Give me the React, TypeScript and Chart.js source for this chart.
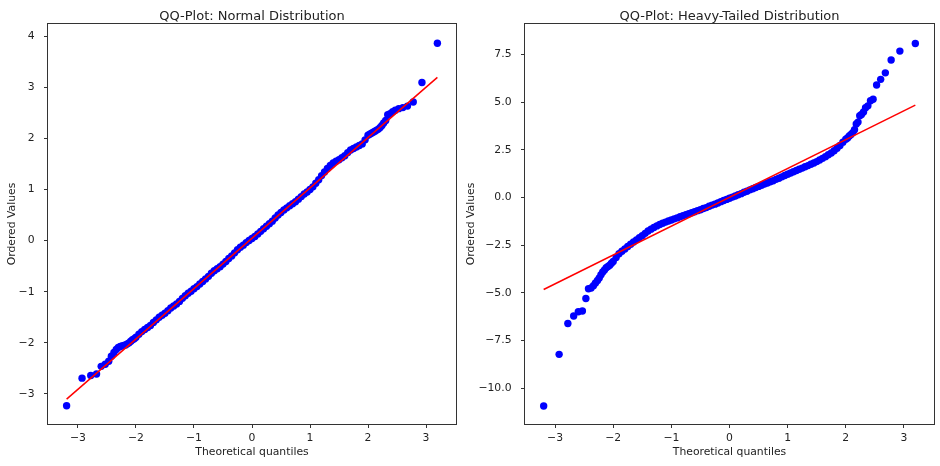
import React, { useEffect, useRef } from "react";
import { Chart, registerables } from "chart.js";

Chart.register(...registerables);

// ---- Data ----
const theoreticalQuantiles = [
  -3.196, -2.93, -2.78, -2.68, -2.6, -2.53, -2.47, -2.425, -2.38, -2.34, -2.305, -2.27, -2.24, -2.21, -2.18, -2.15, -2.12, -2.09, -2.06, -2.03,
  -2.0, -1.95, -1.9, -1.85, -1.8, -1.75, -1.7, -1.65, -1.6, -1.55, -1.5, -1.45, -1.4, -1.35, -1.3, -1.25, -1.2, -1.15, -1.1, -1.05,
  -1.0, -0.95, -0.9, -0.85, -0.8, -0.75, -0.7, -0.65, -0.6, -0.55, -0.5, -0.45, -0.4, -0.35, -0.3, -0.25, -0.2, -0.15, -0.1, -0.05,
  0.0, 0.05, 0.1, 0.15, 0.2, 0.25, 0.3, 0.35, 0.4, 0.45, 0.5, 0.55, 0.6, 0.65, 0.7, 0.75, 0.8, 0.85, 0.9, 0.95,
  1.0, 1.05, 1.1, 1.15, 1.2, 1.25, 1.3, 1.35, 1.4, 1.45, 1.5, 1.55, 1.6, 1.65, 1.7, 1.75, 1.8, 1.85, 1.9, 1.95, 2.0,
  2.03, 2.06, 2.09, 2.12, 2.15, 2.18, 2.21, 2.24, 2.27, 2.305, 2.34, 2.38, 2.425, 2.47, 2.53, 2.6, 2.68, 2.78, 2.93, 3.196,
];

const normalOrdered = [
  -3.23, -2.69, -2.64, -2.61, -2.46, -2.42, -2.36, -2.26, -2.19, -2.13, -2.09, -2.07, -2.06, -2.05, -2.04, -2.02, -2.0, -1.97, -1.94, -1.92,
  -1.89, -1.83, -1.78, -1.74, -1.7, -1.66, -1.6, -1.55, -1.5, -1.46, -1.42, -1.37, -1.32, -1.28, -1.24, -1.19, -1.13, -1.08, -1.03, -0.99,
  -0.94, -0.9, -0.85, -0.8, -0.75, -0.7, -0.64, -0.59, -0.55, -0.51, -0.46, -0.41, -0.35, -0.3, -0.24, -0.18, -0.13, -0.09, -0.04, 0.0,
  0.04, 0.08, 0.13, 0.18, 0.23, 0.28, 0.33, 0.38, 0.44, 0.5, 0.55, 0.6, 0.64, 0.68, 0.72, 0.76, 0.81, 0.86, 0.91, 0.95,
  1.0, 1.05, 1.12, 1.19, 1.27, 1.34, 1.41, 1.47, 1.52, 1.55, 1.58, 1.62, 1.66, 1.72, 1.77, 1.8, 1.83, 1.86, 1.89, 1.97, 2.06,
  2.08, 2.1, 2.12, 2.14, 2.16, 2.18, 2.21, 2.25, 2.3, 2.35, 2.46, 2.48, 2.52, 2.55, 2.58, 2.6, 2.63, 2.71, 3.09, 3.86,
];

const heavyOrdered = [
  -10.93, -8.22, -6.6, -6.21, -5.99, -5.95, -5.29, -4.78, -4.74, -4.62, -4.48, -4.35, -4.22, -4.05, -3.9, -3.8, -3.68, -3.62, -3.55, -3.45,
  -3.35, -3.15, -2.95, -2.82, -2.7, -2.57, -2.45, -2.33, -2.22, -2.11, -2.0, -1.88, -1.76, -1.66, -1.57, -1.49, -1.42, -1.35, -1.29, -1.23,
  -1.18, -1.12, -1.07, -1.01, -0.96, -0.9, -0.85, -0.8, -0.75, -0.69, -0.64, -0.58, -0.53, -0.46, -0.4, -0.35, -0.29, -0.22, -0.16, -0.1,
  -0.04, 0.02, 0.08, 0.14, 0.2, 0.27, 0.33, 0.4, 0.46, 0.52, 0.58, 0.64, 0.7, 0.76, 0.82, 0.88, 0.95, 1.01, 1.08, 1.15,
  1.22, 1.28, 1.35, 1.41, 1.48, 1.54, 1.61, 1.67, 1.74, 1.81, 1.88, 1.96, 2.05, 2.14, 2.24, 2.33, 2.45, 2.58, 2.72, 2.9, 3.05,
  3.12, 3.22, 3.3, 3.4, 3.55, 3.85, 3.95, 4.28, 4.35, 4.48, 4.7, 4.8, 5.07, 5.15, 5.89, 6.19, 6.53, 7.2, 7.67, 8.07,
];

// Fit line end points (at the first and last theoretical quantile)
const fitX = [-3.196, 3.196];
const normalFit = [-3.1, 3.19];
const heavyFit = [-4.82, 4.84];

// Axis ticks
const xTicks = [-3, -2, -1, 0, 1, 2, 3];
const normalYTicks = [-3, -2, -1, 0, 1, 2, 3, 4];
const heavyYTicks = [-10.0, -7.5, -5.0, -2.5, 0.0, 2.5, 5.0, 7.5];

const titles = ["QQ-Plot: Normal Distribution", "QQ-Plot: Heavy-Tailed Distribution"];
const xLabel = "Theoretical quantiles";
const yLabel = "Ordered Values";

const FONT = "'DejaVu Sans', Verdana, sans-serif";
const TEXT = "#222222";
const SPINE = "#333333";
const TICK_SIZE = 10.8;
const TITLE_SIZE = 13;

const fmt = (v: number, digits: number) => {
  const s = Math.abs(v) < 1e-9 ? (0).toFixed(digits) : v.toFixed(digits);
  return s.replace("-", "\u2212");
};

const framePlugin = {
  id: "frameTitle",
  afterDraw(chart: any, _args: any, opts: any) {
    const { ctx, chartArea: a } = chart;
    ctx.save();
    ctx.strokeStyle = SPINE;
    ctx.lineWidth = 1;
    const l = Math.round(a.left) - 0.5;
    const t = Math.round(a.top) - 0.5;
    const r = Math.round(a.right) + 0.5;
    const b = Math.round(a.bottom) + 0.5;
    ctx.strokeRect(l, t, r - l, b - t);
    ctx.font = `${TITLE_SIZE}px ${FONT}`;
    ctx.fillStyle = TEXT;
    ctx.textAlign = "center";
    ctx.textBaseline = "alphabetic";
    ctx.fillText(opts.text, (a.left + a.right) / 2, 19.5);
    ctx.restore();
  },
};

type PanelProps = {
  left: number;
  width: number;
  rightPad: number;
  yAxisWidth: number;
  yTitlePad: number;
  title: string;
  values: number[];
  fit: number[];
  yMin: number;
  yMax: number;
  yTicks: number[];
  yDigits: number;
};

function Panel(p: PanelProps) {
  const ref = useRef<HTMLCanvasElement | null>(null);
  useEffect(() => {
    if (!ref.current) return;
    const points = theoreticalQuantiles.map((x, i) => ({ x, y: p.values[i] }));
    const line = fitX.map((x, i) => ({ x, y: p.fit[i] }));
    const tickFont = { family: FONT, size: TICK_SIZE };
    const chart = new Chart(ref.current, {
      type: "scatter",
      data: {
        datasets: [
          {
            data: line,
            showLine: true,
            borderColor: "#ff0000",
            borderWidth: 1.5,
            pointRadius: 0,
            order: 0,
          } as any,
          {
            data: points,
            backgroundColor: "#0000ff",
            borderWidth: 0,
            pointRadius: 3.7,
            order: 1,
          } as any,
        ],
      },
      options: {
        animation: false,
        responsive: false,
        devicePixelRatio: 1,
        layout: { padding: { top: 24, left: 0, right: p.rightPad, bottom: 0 } },
        plugins: {
          legend: { display: false },
          tooltip: { enabled: false },
          title: { display: false },
          frameTitle: { text: p.title },
        } as any,
        scales: {
          x: {
            type: "linear",
            min: -3.517,
            max: 3.517,
            afterFit: (s: any) => {
              s.height = 42;
            },
            afterBuildTicks: (s: any) => {
              s.ticks = xTicks.map((v) => ({ value: v }));
            },
            ticks: {
              font: tickFont,
              color: TEXT,
              padding: 3.5,
              maxRotation: 0,
              autoSkip: false,
              callback: (v: any) => fmt(Number(v), 0),
            },
            grid: {
              drawOnChartArea: false,
              drawTicks: true,
              tickLength: 4,
              tickColor: SPINE,
              lineWidth: 1,
            },
            border: { display: false },
            title: {
              display: true,
              text: xLabel,
              font: { family: FONT, size: TICK_SIZE },
              color: TEXT,
              padding: { top: 0, bottom: 7.5 },
            },
          },
          y: {
            type: "linear",
            min: p.yMin,
            max: p.yMax,
            afterFit: (s: any) => {
              s.width = p.yAxisWidth;
            },
            afterBuildTicks: (s: any) => {
              s.ticks = p.yTicks.map((v) => ({ value: v }));
            },
            ticks: {
              font: tickFont,
              color: TEXT,
              padding: 9.5,
              autoSkip: false,
              callback: (v: any) => fmt(Number(v), p.yDigits),
            },
            grid: {
              drawOnChartArea: false,
              drawTicks: true,
              tickLength: 4,
              tickColor: SPINE,
              lineWidth: 1,
            },
            border: { display: false },
            title: {
              display: true,
              text: yLabel,
              font: { family: FONT, size: TICK_SIZE },
              color: TEXT,
              padding: { top: p.yTitlePad, bottom: 0 },
            },
          },
        },
      },
      plugins: [framePlugin as any],
    });
    return () => chart.destroy();
  }, []);
  return (
    <canvas
      ref={ref}
      width={p.width}
      height={466}
      style={{ position: "absolute", left: p.left, top: 0, width: p.width, height: 466 }}
    />
  );
}

export default function App() {
  return (
    <div
      style={{
        position: "fixed",
        left: 0,
        top: 0,
        width: 940,
        height: 466,
        background: "#ffffff",
        overflow: "hidden",
      }}
    >
      <Panel
        left={0}
        width={470}
        rightPad={14}
        yAxisWidth={48}
        yTitlePad={5.5}
        title={titles[0]}
        values={normalOrdered}
        fit={normalFit}
        yMin={-3.587}
        yMax={4.235}
        yTicks={normalYTicks}
        yDigits={0}
      />
      <Panel
        left={460}
        width={480}
        rightPad={6}
        yAxisWidth={65}
        yTitlePad={4.8}
        title={titles[1]}
        values={heavyOrdered}
        fit={heavyFit}
        yMin={-11.87}
        yMax={9.09}
        yTicks={heavyYTicks}
        yDigits={1}
      />
    </div>
  );
}
